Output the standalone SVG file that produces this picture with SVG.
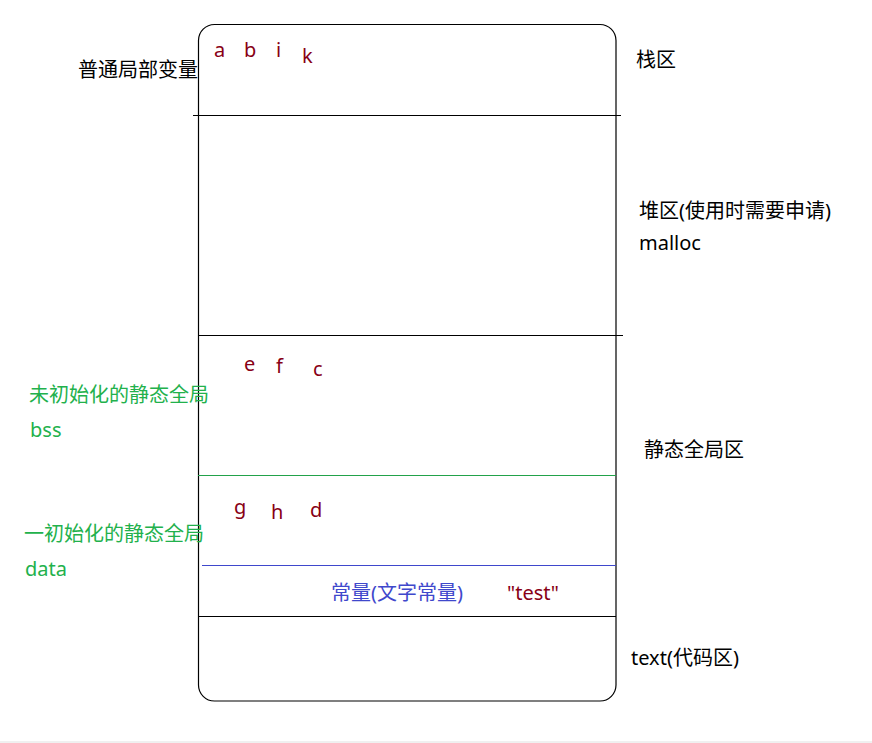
<svg xmlns="http://www.w3.org/2000/svg" width="872" height="743" viewBox="0 0 872 743">
<style>
text{font-family:"Noto Sans","Noto Sans CJK SC",sans-serif;font-size:20px}
.blk{fill:#000}
.red{fill:#880015}
.grn{fill:#22B14C}
.blu{fill:#3F48CC}
.ln{stroke-width:1;fill:none}
</style>
<rect x="0" y="0" width="872" height="743" fill="#fff"/>
<rect x="0" y="741" width="872" height="2" fill="#f0f0f0"/>
<g id="memory-box">
<rect x="198.5" y="24.5" width="417.5" height="676.5" rx="16" ry="16" fill="none" stroke="#000" stroke-width="1.2"/>
</g>
<g id="connectors">
<line class="ln" x1="193" y1="115.5" x2="621" y2="115.5" stroke="#000"/>
<line class="ln" x1="198" y1="335.5" x2="623" y2="335.5" stroke="#000"/>
<line class="ln" x1="198" y1="475.5" x2="616" y2="475.5" stroke="#22A24A"/>
<line class="ln" x1="202" y1="565.5" x2="616" y2="565.5" stroke="#3F48CC"/>
<line class="ln" x1="198" y1="616.5" x2="616" y2="616.5" stroke="#000"/>
</g>
<g id="stack">
<text class="blk" x="78" y="77" font-size="21">普通局部变量</text>
<text class="red" x="214" y="57">a</text>
<text class="red" x="244" y="57">b</text>
<text class="red" x="276" y="57">i</text>
<text class="red" x="302" y="63">k</text>
<text class="blk" x="636" y="67" font-size="21">栈区</text>
</g>
<g id="heap">
<text class="blk" x="639" y="218" font-size="20.5">堆区(使用时需要申请)</text>
<text class="blk" x="639" y="250">malloc</text>
</g>
<g id="bss">
<text class="red" x="244" y="371" font-size="14">e</text>
<text class="red" x="276" y="373">f</text>
<text class="red" x="313" y="376">c</text>
<text class="grn" x="29" y="402" font-size="21">未初始化的静态全局</text>
<text class="grn" x="30" y="437">bss</text>
<text class="blk" x="644" y="457" font-size="21">静态全局区</text>
</g>
<g id="data">
<text class="red" x="234" y="514">g</text>
<text class="red" x="271" y="519">h</text>
<text class="red" x="310" y="517">d</text>
<text class="grn" x="24" y="541" font-size="21">一初始化的静态全局</text>
<text class="grn" x="25" y="576">data</text>
</g>
<g id="const">
<text class="blu" x="331" y="600" font-size="20.5">常量(文字常量)</text>
<text class="red" x="507" y="600">"test"</text>
</g>
<g id="text-seg">
<text class="blk" x="631" y="665" font-size="20.5">text(代码区)</text>
</g>
</svg>
